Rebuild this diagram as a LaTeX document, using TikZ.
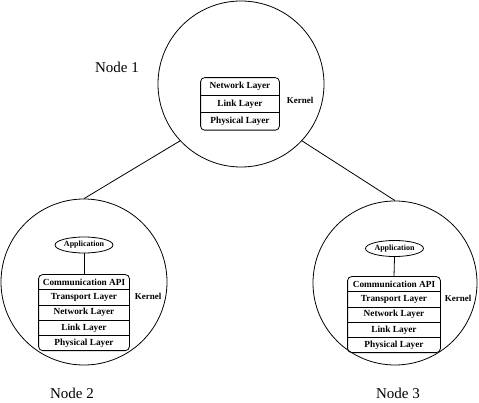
\documentclass[tikz,border=0pt]{standalone}
\usepackage{fontspec}
\setmainfont{Liberation Serif}
\usetikzlibrary{positioning,shapes.geometric}
\tikzset{
	site/.style={draw, circle, minimum size=#1, inner sep=0pt},
	layer/.style={minimum width=#1, minimum height=14.4pt, inner sep=0pt, font=\fontsize{9.3}{10}\selectfont\bfseries},
	app/.style={draw, ellipse, minimum width=58pt, minimum height=16pt, inner sep=0pt, font=\fontsize{8}{9}\selectfont\bfseries},
	kern/.style={font=\fontsize{9}{10}\selectfont\bfseries},
	sitename/.style={font=\fontsize{15}{16}\selectfont, anchor=base, inner sep=0pt}
}

\begin{document}
\begin{tikzpicture}[x=1pt, y=-1pt, line width=0.8pt]
		%%%%% START %%%%%
		\useasboundingbox (0,0) rectangle (479,403);
		
		\node[site=166pt] (n1) at (241,84) {};
		\node[site=166pt] (n2) at (84,282) {};
		\node[site=164pt] (n3) at (395,283) {};
		
		\draw (n1.223) -- (n2.north);
		\draw (n1.317) -- (n3.north);
		
		\node[sitename] (s1) at (117,73) {Node 1};
		\node[sitename] (s2) at (72,398.5) {Node 2};
		\node[sitename] (s3) at (398,398.5) {Node 3};
		
		% node 1
		\node[layer=78pt, minimum height=16.7pt] (t1) at (240,86.4) {Network Layer};
		\node[layer=78pt, minimum height=16.7pt, below=0pt of t1] (t2) {Link Layer};
		\node[layer=78pt, minimum height=16.7pt, below=0pt of t2] (t3) {Physical Layer};
		\draw[rounded corners=4pt] (t1.north west) rectangle (t3.south east);
		\draw (t1.south west) -- (t1.south east);
		\draw (t2.south west) -- (t2.south east);
		\node[kern] (k1) at (300,100) {Kernel};
		
		% node 2
		\node[app] (a2) at (84,245) {Application};
		\node[layer=90pt] (l1) at (84,282.2) {Communication API};
		\node[layer=90pt, below=0pt of l1] (l2) {Transport Layer};
		\node[layer=90pt, below=0pt of l2] (l3) {Network Layer};
		\node[layer=90pt, below=0pt of l3] (l4) {Link Layer};
		\node[layer=90pt, below=0pt of l4] (l5) {Physical Layer};
		\draw[rounded corners=4pt] (l1.north west) rectangle (l5.south east);
		\draw (l1.south west) -- (l1.south east);
		\draw (l2.south west) -- (l2.south east);
		\draw (l3.south west) -- (l3.south east);
		\draw (l4.south west) -- (l4.south east);
		\draw (a2.south) -- (l1.north);
		\node[kern] (k2) at (148,296) {Kernel};
		
		% node 3
		\node[app] (a3) at (394.5,248.5) {Application};
		\node[layer=92pt] (r1) at (394,284.2) {Communication API};
		\node[layer=92pt, below=0pt of r1] (r2) {Transport Layer};
		\node[layer=92pt, below=0pt of r2] (r3) {Network Layer};
		\node[layer=92pt, below=0pt of r3] (r4) {Link Layer};
		\node[layer=92pt, below=0pt of r4] (r5) {Physical Layer};
		\draw[rounded corners=4pt] (r1.north west) rectangle (r5.south east);
		\draw (r1.south west) -- (r1.south east);
		\draw (r2.south west) -- (r2.south east);
		\draw (r3.south west) -- (r3.south east);
		\draw (r4.south west) -- (r4.south east);
		\draw (a3.south) -- (r1.north);
		\node[kern] (k3) at (458,298) {Kernel};
		
		%%%%% END %%%%%
\end{tikzpicture}
\end{document}
